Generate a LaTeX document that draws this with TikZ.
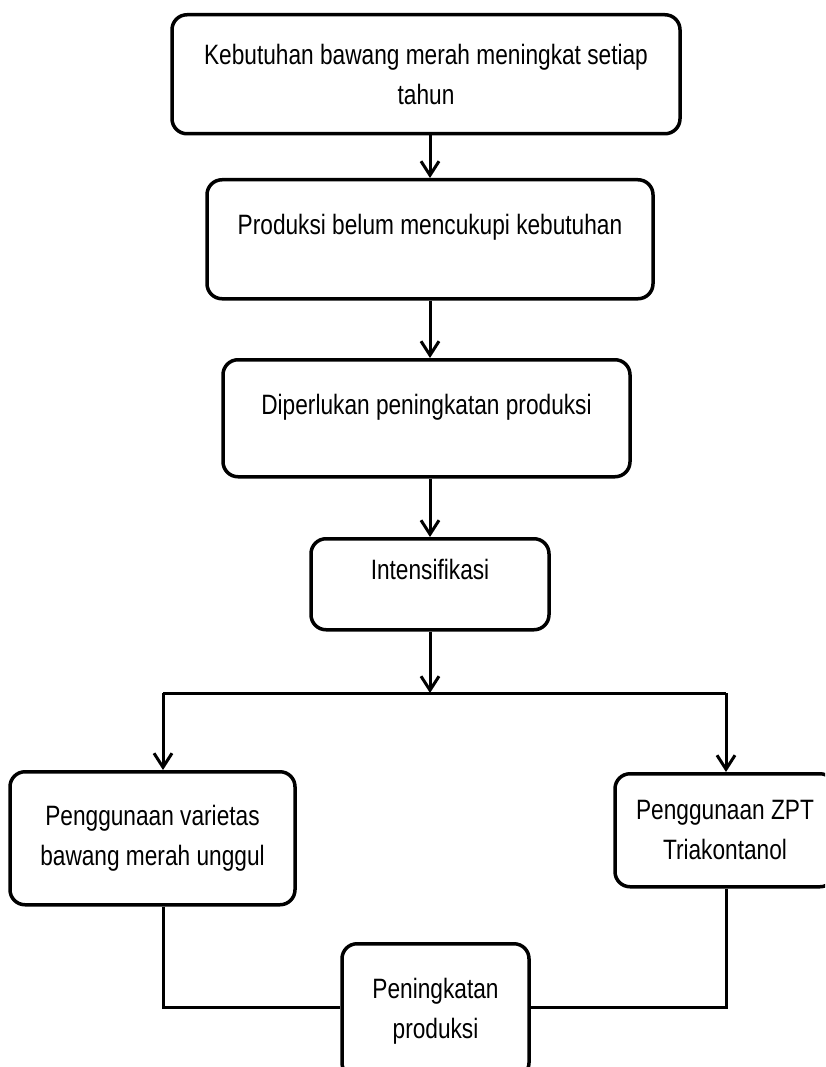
\documentclass[tikz,border=0pt]{standalone}
\usepackage{fontspec}
\setmainfont[FakeStretch=0.81]{Liberation Sans}
\usetikzlibrary{arrows.meta}
\newlength{\du}
\setlength{\du}{1pt}

\begin{document}
\begin{tikzpicture}[
  langkah/.style={draw=dialinecolor, line width=3.5\du, rounded corners=15\du,
    fill=white, anchor=north, inner sep=0pt, align=center,
    font=\fontsize{28}{40}\selectfont},
  alur/.style={draw=dialinecolor, line width=3\du},
  panah/.style={alur, -{Straight Barb[length=14pt,width=18pt]}}]
\pgftransformxscale{1.000000}
\pgftransformyscale{-1.000000}
\definecolor{dialinecolor}{rgb}{0.000000, 0.000000, 0.000000}
\useasboundingbox (0\du,0\du) rectangle (825\du,1067\du);
\clip (0\du,0\du) rectangle (825\du,1067\du);
\node[langkah, minimum width=508\du, minimum height=119\du] (kebutuhan) at (426\du,13\du)
  {Kebutuhan bawang merah meningkat setiap\\tahun};
\node[langkah, minimum width=446\du, minimum height=119\du, text height=20\du, text depth=29\du] (produksi) at (430\du,178\du)
  {Produksi belum mencukupi kebutuhan};
\node[langkah, minimum width=407\du, minimum height=117\du, text height=20\du, text depth=27\du] (diperlukan) at (426.5\du,358\du)
  {Diperlukan peningkatan produksi};
\node[langkah, minimum width=238\du, minimum height=91\du, text height=20\du, text depth=29\du] (intensif) at (430\du,537\du)
  {Intensifikasi};
\node[langkah, minimum width=285\du, minimum height=133\du] (varietas) at (152.5\du,770\du)
  {Penggunaan varietas\\bawang merah unggul};
\node[langkah, minimum width=220\du, minimum height=113\du] (zpt) at (725\du,772\du)
  {Penggunaan ZPT\\Triakontanol};
\node[langkah, minimum width=187\du, minimum height=134\du] (hasil) at (435.5\du,942\du)
  {Peningkatan\\produksi};
% cabang
\coordinate (cabang) at (430\du,693\du);
\coordinate (cabangkiri) at (163\du,693\du);
\coordinate (cabangkanan) at (726\du,693\du);
\coordinate (gabungkiri) at (163\du,1007\du);
\coordinate (gabungkanan) at (726\du,1007\du);
\draw[panah] (kebutuhan.south -| produksi.north)--(produksi.north);
\draw[panah] (produksi.south)--(diperlukan.north -| produksi.south);
\draw[panah] (diperlukan.south -| intensif.north)--(intensif.north);
\draw[panah] (intensif.south)--(cabang);
\draw[alur] (cabangkiri)--(cabangkanan);
\draw[panah] (cabangkiri)--(varietas.north -| cabangkiri);
\draw[panah] (cabangkanan)--(zpt.north -| cabangkanan);
\draw[alur] (varietas.south -| gabungkiri)--(gabungkiri)--(gabungkiri -| hasil.west);
\draw[alur] (zpt.south -| gabungkanan)--(gabungkanan)--(gabungkanan -| hasil.east);
\end{tikzpicture}
\end{document}
